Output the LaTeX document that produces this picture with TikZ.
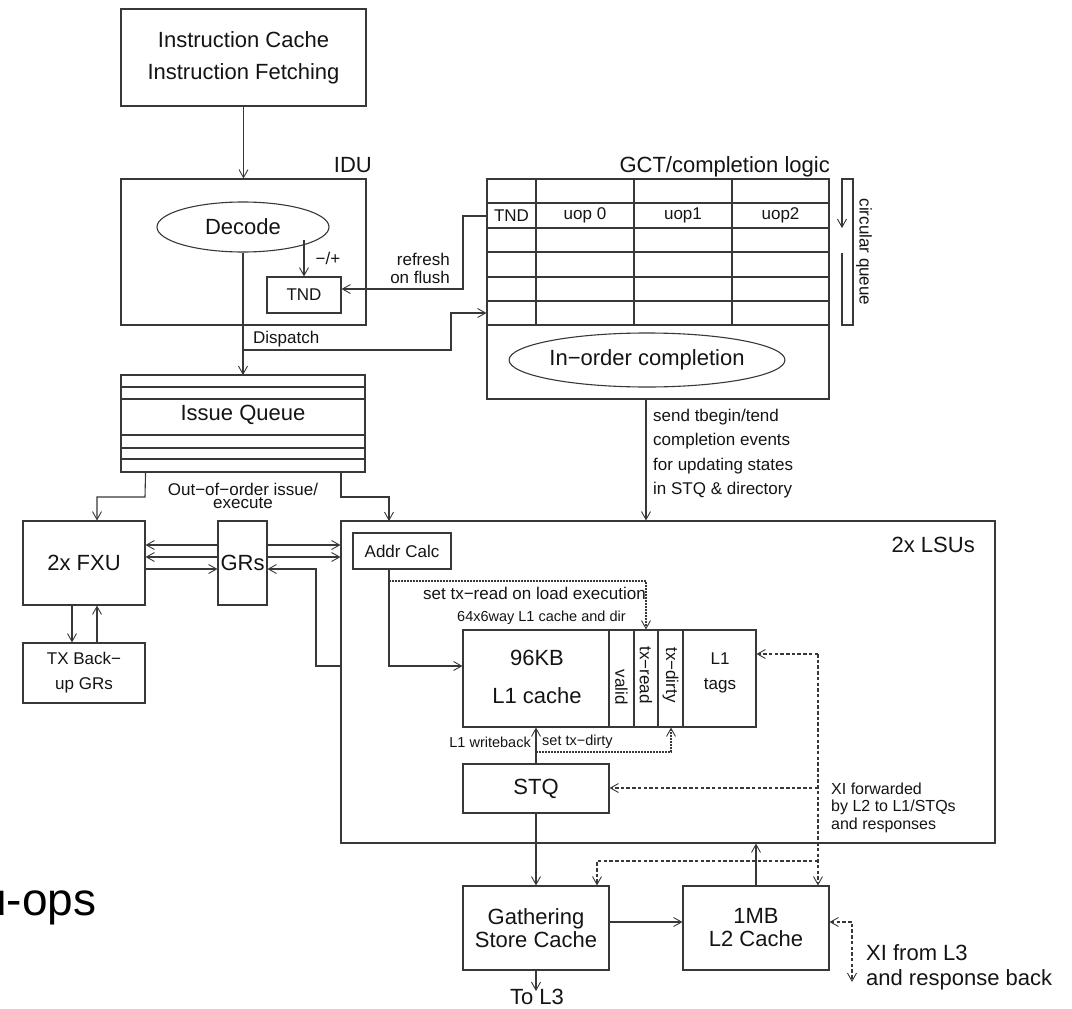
\documentclass[tikz,border=0pt]{standalone}
\usepackage{fontspec}
\setmainfont{Liberation Sans}
\usetikzlibrary{arrows.meta,shapes.geometric}

% font sizes (1pt = one unit of the drawing grid)
\newcommand\szBig{\fontsize{22}{26}\selectfont}
\newcommand\szMid{\fontsize{17}{20}\selectfont}
\newcommand\szSml{\fontsize{14.5}{17}\selectfont}

\tikzset{
  ln/.style={draw=black!78, line width=1.1pt},
  arr/.style={ln, -{Straight Barb[length=8pt,width=9pt,line width=0.9pt]}},
  arrboth/.style={ln, {Straight Barb[length=8pt,width=9pt,line width=0.9pt]}-{Straight Barb[length=8pt,width=9pt,line width=0.9pt]}},
  dsh/.style={dash pattern=on 3.5pt off 2.2pt},
  dot/.style={dash pattern=on 1.6pt off 1.4pt},
  blk/.style={ln, rectangle, inner sep=0pt, text=black!92},
  oval/.style={ln, ellipse, inner sep=0pt, text=black!92},
  lbl/.style={inner sep=0pt, text=black!92},
}

\begin{document}
\begin{tikzpicture}[x=1pt,y=-1pt]
\path[use as bounding box] (0,0) rectangle (1072,1009);
\clip (0,0) rectangle (1072,1009);

% ---------- front end ----------
\node[blk, minimum width=245pt, minimum height=97pt, align=center,
      font={\fontsize{22}{32}\selectfont}] (ic) at (243.5,57.5)
      {Instruction Cache\\Instruction Fetching};

\node[blk, minimum width=245pt, minimum height=146pt] (idu) at (243.5,252) {};
\node[lbl, font=\szBig, anchor=east] (idulbl) at (372,165) {IDU};
\node[oval, minimum width=172pt, minimum height=50pt, font=\szBig] (decode) at (243,227) {Decode};
\node[blk, minimum width=74pt, minimum height=36pt, font=\szMid] (tnd) at (304,295) {TND};
\coordinate (decout) at (304,240);
\node[lbl, font=\szMid] (pm) at (328,258) {−/+};

\draw[arr] (ic.south) -- (idu.north);
\draw[arr] (decout) -- (tnd.north);

% ---------- GCT / completion ----------
\node[blk, minimum width=342pt, minimum height=220pt] (gct) at (658,289) {};
\node[lbl, font=\szBig, anchor=east] (gctlbl) at (830,167) {GCT/completion logic};
\foreach \y in {203,228,252,277,301,325}
  \draw[ln] (gct.west |- 0,\y) -- (gct.east |- 0,\y);
\foreach \x in {536,634,732}
  \draw[ln] (\x,179) -- (\x,325);
\node[lbl, font=\szMid] (gtnd) at (511.5,215.5) {TND};
\node[lbl, font=\szMid] (u0) at (585,215.5) {uop 0};
\node[lbl, font=\szMid] (u1) at (683,215.5) {uop1};
\node[lbl, font=\szMid] (u2) at (780.5,215.5) {uop2};
\node[oval, minimum width=231pt, minimum height=54pt, font=\szBig] (inorder) at (647,360) {In−order completion};

% circular queue marker
\draw[arr] (842,253) -- (842,325) -- (853,325) -- (853,179) -- (842,179) -- (842,228);
\node[lbl, font=\szMid, rotate=-90] (cq) at (864,252) {circular queue};

% refresh on flush
\draw[arr] (gct.west |- 0,216) -- (463,216) -- (463,289) -- (tnd.east |- 0,289);
\node[lbl, font={\fontsize{17}{18}\selectfont}, align=right, anchor=east] (refr) at (450,268) {refresh\\on flush};

% dispatch
\draw[arr] (decode.south) -- (243,375);
\draw[arr] (243,350) -- (451,350) -- (451,313) -- (gct.west |- 0,313);
\node[lbl, font=\szMid, anchor=west] (disp) at (253,339) {Dispatch};

% ---------- issue queue ----------
\node[blk, minimum width=244pt, minimum height=97pt] (iq) at (243,423.5) {};
\foreach \y in {387,399,435,448,459}
  \draw[ln] (iq.west |- 0,\y) -- (iq.east |- 0,\y);
\node[lbl, font=\szBig] (iqlbl) at (243,415) {Issue Queue};
\node[lbl, font={\fontsize{17}{13}\selectfont}, align=center] (ooo) at (243,496) {Out−of−order issue/\\execute};

% ---------- execution units ----------
\node[blk, minimum width=122pt, minimum height=84pt, font=\szBig] (fxu) at (84,563) {2x FXU};
\node[blk, minimum width=49pt, minimum height=84pt, font=\szBig] (grs) at (242.5,563) {GRs};
\node[blk, minimum width=122pt, minimum height=60pt, align=center,
      font={\fontsize{17}{25}\selectfont}] (txb) at (84,673) {TX Back−\\up GRs};

\draw[arr] (iq.south -| fxu.east) -- (145,497) -- (97,497) -- (fxu.north -| 97,0);
\draw[arr] (341,472) -- (341,497) -- (389,497) -- (389,521);

\draw[arr] (fxu.south -| 72,0) -- (txb.north -| 72,0);
\draw[arr] (txb.north -| 97,0) -- (fxu.south -| 97,0);

\draw[arr] (grs.west |- 0,545) -- (fxu.east |- 0,545);
\draw[arr] (grs.west |- 0,557) -- (fxu.east |- 0,557);
\draw[arr] (fxu.east |- 0,569) -- (grs.west |- 0,569);

% ---------- load/store units ----------
\node[blk, minimum width=654pt, minimum height=322pt] (lsu) at (668,682) {};
\node[lbl, font=\szBig, anchor=east] (lsulbl) at (975,545) {2x LSUs};

\draw[arr] (grs.east |- 0,545) -- (lsu.west |- 0,545);
\draw[arr] (grs.east |- 0,557) -- (lsu.west |- 0,557);
\draw[arr] (lsu.west |- 0,666) -- (316,666) -- (316,569) -- (grs.east |- 0,569);

\draw[arr] (gct.south -| 646,0) -- (lsu.north -| 646,0);
\node[lbl, font={\fontsize{17}{24.3}\selectfont}, align=left, anchor=west] (sendlbl) at (653,453.5)
  {send tbegin/tend\\completion events\\for updating states\\in STQ \& directory};

\node[blk, minimum width=98pt, minimum height=36pt, font=\szMid] (addr) at (402,551) {Addr Calc};

% L1 cache with its directory columns
\node[blk, minimum width=293pt, minimum height=97pt] (l1) at (609.5,678.5) {};
\foreach \x in {609,634,658,683}
  \draw[ln] (\x,630) -- (\x,727);
\node[lbl, font={\fontsize{22}{38}\selectfont}, align=center] (l1txt) at (537,677) {96KB\\L1 cache};
\node[lbl, font=\szMid, rotate=-90] (valid) at (621.5,687) {valid};
\node[lbl, font=\szMid, rotate=-90] (txr) at (646,675) {tx−read};
\node[lbl, font=\szMid, rotate=-90] (txd) at (670.5,675) {tx−dirty};
\node[lbl, font={\fontsize{17}{25}\selectfont}, align=center] (tags) at (720,672.5) {L1\\tags};
\node[lbl, font=\szSml, anchor=west] (dirlbl) at (457,618) {64x6way L1 cache and dir};

\draw[arr] (addr.south -| 389,0) -- (389,666) -- (l1.west |- 0,666);
\draw[arr, dot] (389,581) -- (646,581) -- (l1.north -| 646,0);
\node[lbl, font=\szMid, anchor=west] (txrlbl) at (423,593) {set tx−read on load execution};

\node[blk, minimum width=146pt, minimum height=49pt, font=\szBig] (stq) at (536,788.5) {STQ};
\draw[arr] (stq.north) -- (l1.south -| stq.north);
\draw[arr, dot] (536,752) -- (671,752) -- (l1.south -| 671,0);
\node[lbl, font=\szSml, anchor=east] (wblbl) at (531,742) {L1 writeback};
\node[lbl, font=\szSml, anchor=west] (txdlbl) at (542,742) {set tx−dirty};

% ---------- L2 side ----------
\node[blk, minimum width=146pt, minimum height=84pt, align=center,
      font={\fontsize{22}{23}\selectfont}] (gsc) at (536,928) {Gathering\\Store Cache};
\node[blk, minimum width=146pt, minimum height=84pt, align=center,
      font={\fontsize{22}{23}\selectfont}] (l2) at (756,928) {1MB\\L2 Cache};

\draw[arr] (stq.south) -- (gsc.north);
\draw[arr] (gsc.east |- 0,922) -- (l2.west |- 0,922);
\draw[arr] (l2.north) -- (lsu.south -| l2.north);
\coordinate (tol3) at (536,991);
\draw[arr] (gsc.south) -- (tol3);
\node[lbl, font=\szBig] (tol3lbl) at (537,997) {To L3};

% cross-interrogates forwarded by L2
\draw[arr, dsh] (818,654) -- (l1.east |- 0,654);
\draw[arr, dsh] (818,654) -- (l2.north -| 818,0);
\draw[arr, dsh] (818,788) -- (stq.east |- 0,788);
\draw[arr, dsh] (818,861) -- (597,861) -- (gsc.north -| 597,0);
\node[lbl, font={\fontsize{16}{17.5}\selectfont}, align=left, anchor=west] (xifwd) at (831,807.5)
  {XI forwarded\\by L2 to L1/STQs\\and responses};

\coordinate (xiend) at (852,982);
\draw[arrboth, dsh] (l2.east |- 0,922) -- (852,922) -- (xiend);
\node[lbl, font={\fontsize{22}{25}\selectfont}, align=left, anchor=west] (xil3) at (866,967.5)
  {XI from L3\\and response back};

% caption fragment at the left edge
\node[anchor=base west, inner sep=0pt, text=black, font={\fontsize{46}{52}\selectfont}] (uops) at (-19,915) {u-ops};
\end{tikzpicture}
\end{document}
